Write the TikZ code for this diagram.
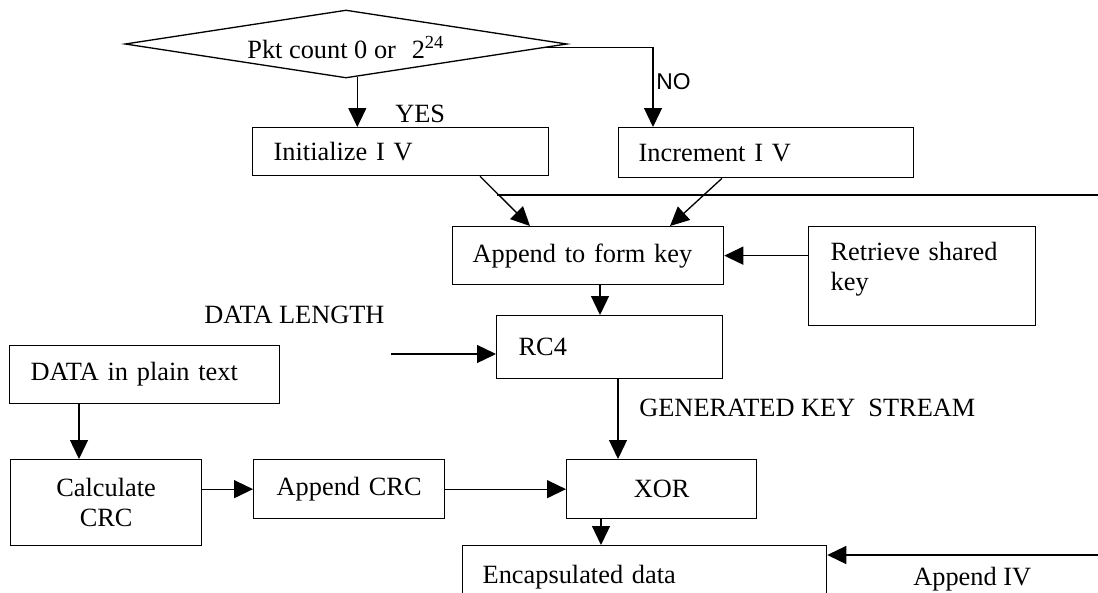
\documentclass[tikz,border=0pt]{standalone}
\usepackage{fontspec}
\setmainfont{Liberation Serif}
\newfontfamily\sansf{Liberation Sans}
\usetikzlibrary{shapes.geometric,arrows.meta}
\newcommand\fs{\fontsize{15}{17}\selectfont}
\tikzset{
  box/.style={draw, line width=0.75pt, anchor=north west, inner ysep=0pt, font=\fs, align=left},
  cbox/.style={draw, line width=0.75pt, anchor=north west, inner sep=0pt, font=\fs, align=center},
  arr/.style={line width=0.75pt, -{Triangle[length=0.38cm,width=0.36cm]}},
  ln/.style={line width=0.75pt},
  lbl/.style={font=\fs, inner sep=0pt, anchor=base west},
}
\begin{document}
\begin{tikzpicture}[x=0.02cm,y=-0.02cm]
\useasboundingbox (0,0) rectangle (1098,592);
\clip (0,0) rectangle (1098,592);
% decision
\node[draw, diamond, minimum width=8.84cm, minimum height=1.36cm, inner sep=0pt, line width=0.75pt] (d) at (346,44) {};
\node[lbl] (dt) at (247,58) {Pkt count 0 or\hspace{0.6em}2\textsuperscript{24}};
% boxes
\node[box, inner xsep=0.42cm, text width=5.08cm, minimum height=0.96cm] (init) at (252,127) {Initialize I V};
\node[box, inner xsep=0.40cm, text width=5.10cm, minimum height=1.00cm] (inc) at (618,127) {Increment I V};
\node[box, inner xsep=0.40cm, text width=4.62cm, minimum height=1.16cm] (app) at (452,226) {Append to form key};
\node[box, inner xsep=0.44cm, text width=3.66cm, text height=0.68cm, text depth=1.30cm] (ret) at (808,226) {Retrieve shared\\key};
\node[box, inner xsep=0.44cm, text width=3.64cm, minimum height=1.26cm] (rc4) at (496,315) {RC4};
\node[box, inner xsep=0.42cm, text width=4.56cm, minimum height=1.16cm] (data) at (9,345) {DATA in plain text};
\node[cbox, text width=3.82cm, minimum height=1.72cm] (calc) at (10,459) {Calculate\\CRC};
\node[cbox, text width=3.82cm, minimum height=1.18cm] (acrc) at (253,459) {Append CRC};
\node[cbox, text width=3.80cm, minimum height=1.18cm] (xor) at (566,459) {XOR};
\node[box, inner xsep=0.40cm, text width=6.48cm, minimum height=1.24cm] (enc) at (462,545) {Encapsulated data};
% labels
\node[lbl] (yes) at (395,122) {YES};
\node[lbl, font=\sansf\fontsize{13}{15}\selectfont] (no) at (656,89) {NO};
\node[lbl] (dlen) at (204,323) {DATA LENGTH};
\node[lbl] (gks) at (639,416) {GENERATED KEY\ \ STREAM};
\node[lbl] (aivt) at (913,585) {Append IV};
% helper coordinates
\coordinate (cx480) at (480,0);
\coordinate (cx530) at (530,0);
\coordinate (cx722) at (722,0);
\coordinate (cx670) at (670,0);
\coordinate (cx653) at (653,0);
\coordinate (cx600) at (600,0);
\coordinate (cx618) at (618,0);
\coordinate (cx601) at (601,0);
\coordinate (cx79) at (79,0);
\coordinate (dl) at (391,354);
\coordinate (aiv) at (1098,555);
\coordinate (h1) at (497,195);
\coordinate (h2) at (1098,195);
% connectors
\draw[arr] (d.-71) -- (d.-71 |- init.north);
\draw[arr] (d.-1.5) -| (cx653 |- inc.north);
\draw[arr] (init.south -| cx480) -- (app.north -| cx530);
\draw[arr] (inc.south -| cx722) -- (app.north -| cx670);
\draw[ln] (h1) -- (h2);
\draw[arr] (ret.west |- app.east) -- (app.east);
\draw[arr] (app.south -| cx600) -- (rc4.north -| cx600);
\draw[arr] (dl) -- (dl -| rc4.west);
\draw[arr] (rc4.south -| cx618) -- (xor.north -| cx618);
\draw[arr] (data.south -| cx79) -- (calc.north -| cx79);
\draw[arr] (calc.east |- acrc.west) -- (acrc.west);
\draw[arr] (acrc.east) -- (xor.west);
\draw[arr] (xor.south -| cx601) -- (enc.north -| cx601);
\draw[arr] (aiv) -- (aiv -| enc.east);
\end{tikzpicture}
\end{document}
